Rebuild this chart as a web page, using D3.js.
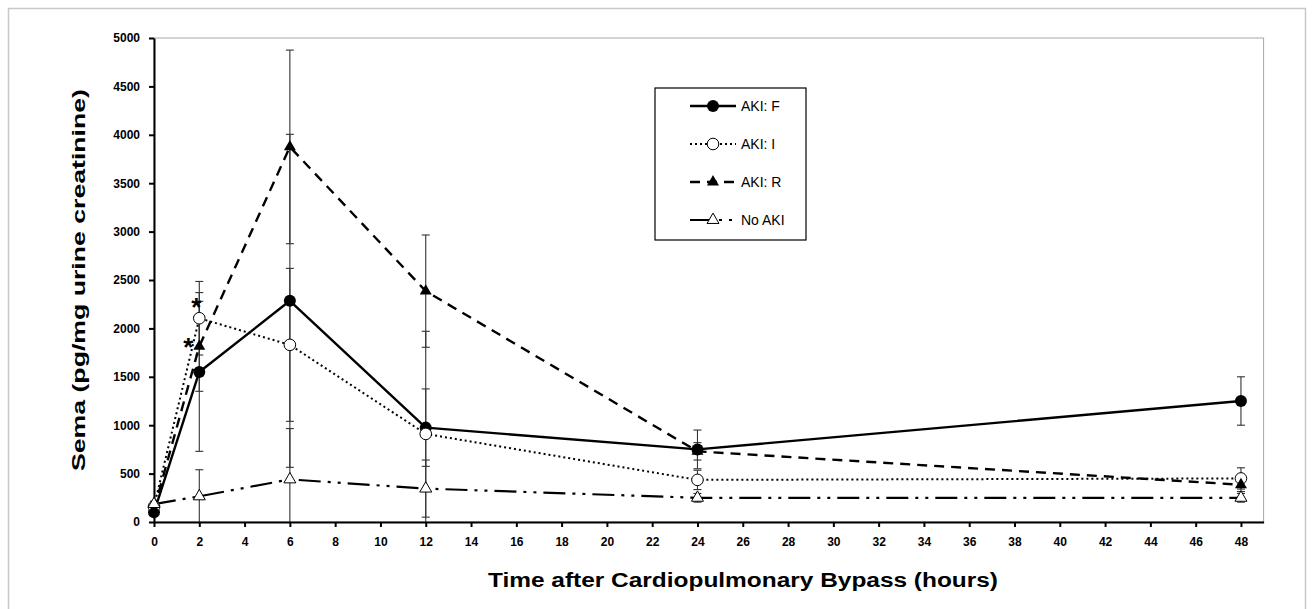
<!DOCTYPE html>
<html>
<head>
<meta charset="utf-8">
<script src="https://cdn.jsdelivr.net/npm/d3@7"></script>
<style>
  html, body { margin: 0; padding: 0; background: #fff; }
  svg { display: block; }
  text { font-family: "Liberation Sans", Arial, sans-serif; }
</style>
</head>
<body>
<script>
// ---- data ----
const hours = [0, 2, 6, 12, 24, 48];
const seriesNames = ["AKI: F", "AKI: I", "AKI: R", "No AKI"];
const valuesF = [100, 1550, 2285, 975, 750, 1250];
const errorsF = [30, 820, 1720, 400, 200, 250];
const valuesI = [160, 2105, 1830, 910, 435, 450];
const errorsI = [30, 380, 790, 1060, 100, 110];
const valuesR = [130, 1815, 3875, 2385, 730, 385];
const errorsR = [30, 465, 1000, 580, 90, 70];
const valuesN = [185, 265, 440, 345, 250, 250];
const errorsN = [30, 275, 525, 295, 45, 45];
const xTicks = [0,2,4,6,8,10,12,14,16,18,20,22,24,26,28,30,32,34,36,38,40,42,44,46,48];
const yTicks = [0,500,1000,1500,2000,2500,3000,3500,4000,4500,5000];
const xTitle = "Time after Cardiopulmonary Bypass (hours)";
const yTitle = "Sema (pg/mg urine creatinine)";

const W = 1313, H = 609;
const svg = d3.select("body").append("svg").attr("width", W).attr("height", H);
svg.append("rect").attr("width", W).attr("height", H).attr("fill", "#fff");
// outer chart border
svg.append("rect").attr("x", 8.5).attr("y", 8.5).attr("width", 1297).attr("height", 620)
  .attr("fill", "none").attr("stroke", "#c8c8c8").attr("stroke-width", 1.5);

const x = d3.scaleLinear().domain([0, 49]).range([154, 1263.6]);
const y = d3.scaleLinear().domain([0, 5000]).range([522, 38]);

// plot area border
svg.append("rect").attr("x", x(0)).attr("y", y(5000))
  .attr("width", x(49) - x(0)).attr("height", y(0) - y(5000))
  .attr("fill", "none").attr("stroke", "#a8a8a8").attr("stroke-width", 1);

const series = [
  { name: seriesNames[0], v: valuesF, e: errorsF, dash: null, width: 2.4, marker: "circleFilled" },
  { name: seriesNames[1], v: valuesI, e: errorsI, dash: "2,3", width: 2, marker: "circleOpen" },
  { name: seriesNames[2], v: valuesR, e: errorsR, dash: "10,7", width: 2.4, marker: "triFilled" },
  { name: seriesNames[3], v: valuesN, e: errorsN, dash: "22,7,3,7,3,7", width: 2.2, marker: "triOpen" }
];

// error bars
const eg = svg.append("g");
series.forEach(s => {
  hours.forEach((h, i) => {
    const cx = x(h);
    const hi = s.v[i] + s.e[i], lo = s.v[i] - s.e[i];
    const loC = Math.max(0, lo);
    eg.append("line").attr("x1", cx).attr("x2", cx).attr("y1", y(hi)).attr("y2", y(loC))
      .attr("stroke", "#333").attr("stroke-width", 1.1);
    eg.append("line").attr("x1", cx - 4).attr("x2", cx + 4).attr("y1", y(hi)).attr("y2", y(hi))
      .attr("stroke", "#333").attr("stroke-width", 1.1);
    if (lo >= 0) {
      eg.append("line").attr("x1", cx - 4).attr("x2", cx + 4).attr("y1", y(lo)).attr("y2", y(lo))
        .attr("stroke", "#333").attr("stroke-width", 1.1);
    }
  });
});

// axes
const yAxis = d3.axisLeft(y).tickValues(yTicks).tickSize(5).tickSizeOuter(0).tickPadding(9).tickFormat(d => d);
const gy = svg.append("g").attr("transform", `translate(${x(0)},0)`).call(yAxis);
const xAxis = d3.axisBottom(x).tickValues(xTicks).tickSize(5).tickSizeOuter(0).tickPadding(10).tickFormat(d => d);
const gx = svg.append("g").attr("transform", `translate(0,${y(0)})`).call(xAxis);
[gx, gy].forEach(g => {
  g.select(".domain").attr("stroke", "#000").attr("stroke-width", 2);
  g.selectAll(".tick line").attr("stroke", "#000").attr("stroke-width", 2);
  g.selectAll(".tick text").attr("fill", "#000").attr("font-size", "12px").attr("font-weight", "bold")
    .attr("font-family", "'Liberation Sans', Arial, sans-serif");
});

// lines
const line = d3.line().x(d => x(d[0])).y(d => y(d[1]));
series.forEach(s => {
  svg.append("path").datum(hours.map((h, i) => [h, s.v[i]]))
    .attr("d", line).attr("fill", "none").attr("stroke", "#000")
    .attr("stroke-width", s.width).attr("stroke-dasharray", s.dash)
    .attr("stroke-linejoin", "round");
});

function drawMarker(g, type, cx, cy) {
  if (type === "circleFilled") {
    g.append("circle").attr("cx", cx).attr("cy", cy).attr("r", 6).attr("fill", "#000");
  } else if (type === "circleOpen") {
    g.append("circle").attr("cx", cx).attr("cy", cy).attr("r", 5.8).attr("fill", "#fff")
      .attr("stroke", "#000").attr("stroke-width", 1);
  } else {
    const sym = d3.symbol().type(d3.symbolTriangle).size(62)();
    const p = g.append("path").attr("d", sym).attr("transform", `translate(${cx},${cy})`);
    if (type === "triFilled") p.attr("fill", "#000");
    else p.attr("fill", "#fff").attr("stroke", "#000").attr("stroke-width", 1);
  }
}
const mg = svg.append("g");
series.forEach(s => {
  hours.forEach((h, i) => drawMarker(mg, s.marker, x(h), y(s.v[i])));
});

// significance asterisks
svg.append("text").attr("x", x(2) - 3).attr("y", y(valuesI[1]) - 2).attr("text-anchor", "middle")
  .attr("font-size", "26px").attr("font-weight", "bold").text("*");
svg.append("text").attr("x", x(2) - 11).attr("y", y(valuesR[1]) + 10).attr("text-anchor", "middle")
  .attr("font-size", "26px").attr("font-weight", "bold").text("*");

// axis titles
svg.append("text").attr("x", 743).attr("y", 587).attr("text-anchor", "middle")
  .attr("font-size", "20px").attr("font-weight", "bold")
  .attr("textLength", 510).attr("lengthAdjust", "spacingAndGlyphs").text(xTitle);
svg.append("text").attr("transform", "translate(85,280) rotate(-90)").attr("text-anchor", "middle")
  .attr("font-size", "19px").attr("font-weight", "bold")
  .attr("textLength", 382).attr("lengthAdjust", "spacingAndGlyphs").text(yTitle);

// legend
const lg = svg.append("g");
lg.append("rect").attr("x", 655).attr("y", 88).attr("width", 151).attr("height", 152)
  .attr("fill", "#fff").attr("stroke", "#000").attr("stroke-width", 1.2);
const rowY = [106, 144, 182, 220];
series.forEach((s, i) => {
  const ly = rowY[i];
  lg.append("line").attr("x1", 690).attr("x2", 736).attr("y1", ly).attr("y2", ly)
    .attr("stroke", "#000").attr("stroke-width", s.width).attr("stroke-dasharray", s.dash);
  drawMarker(lg, s.marker, 713, ly);
  lg.append("text").attr("x", 741).attr("y", ly + 5).attr("font-size", "14px").text(s.name);
});
</script>
</body>
</html>
